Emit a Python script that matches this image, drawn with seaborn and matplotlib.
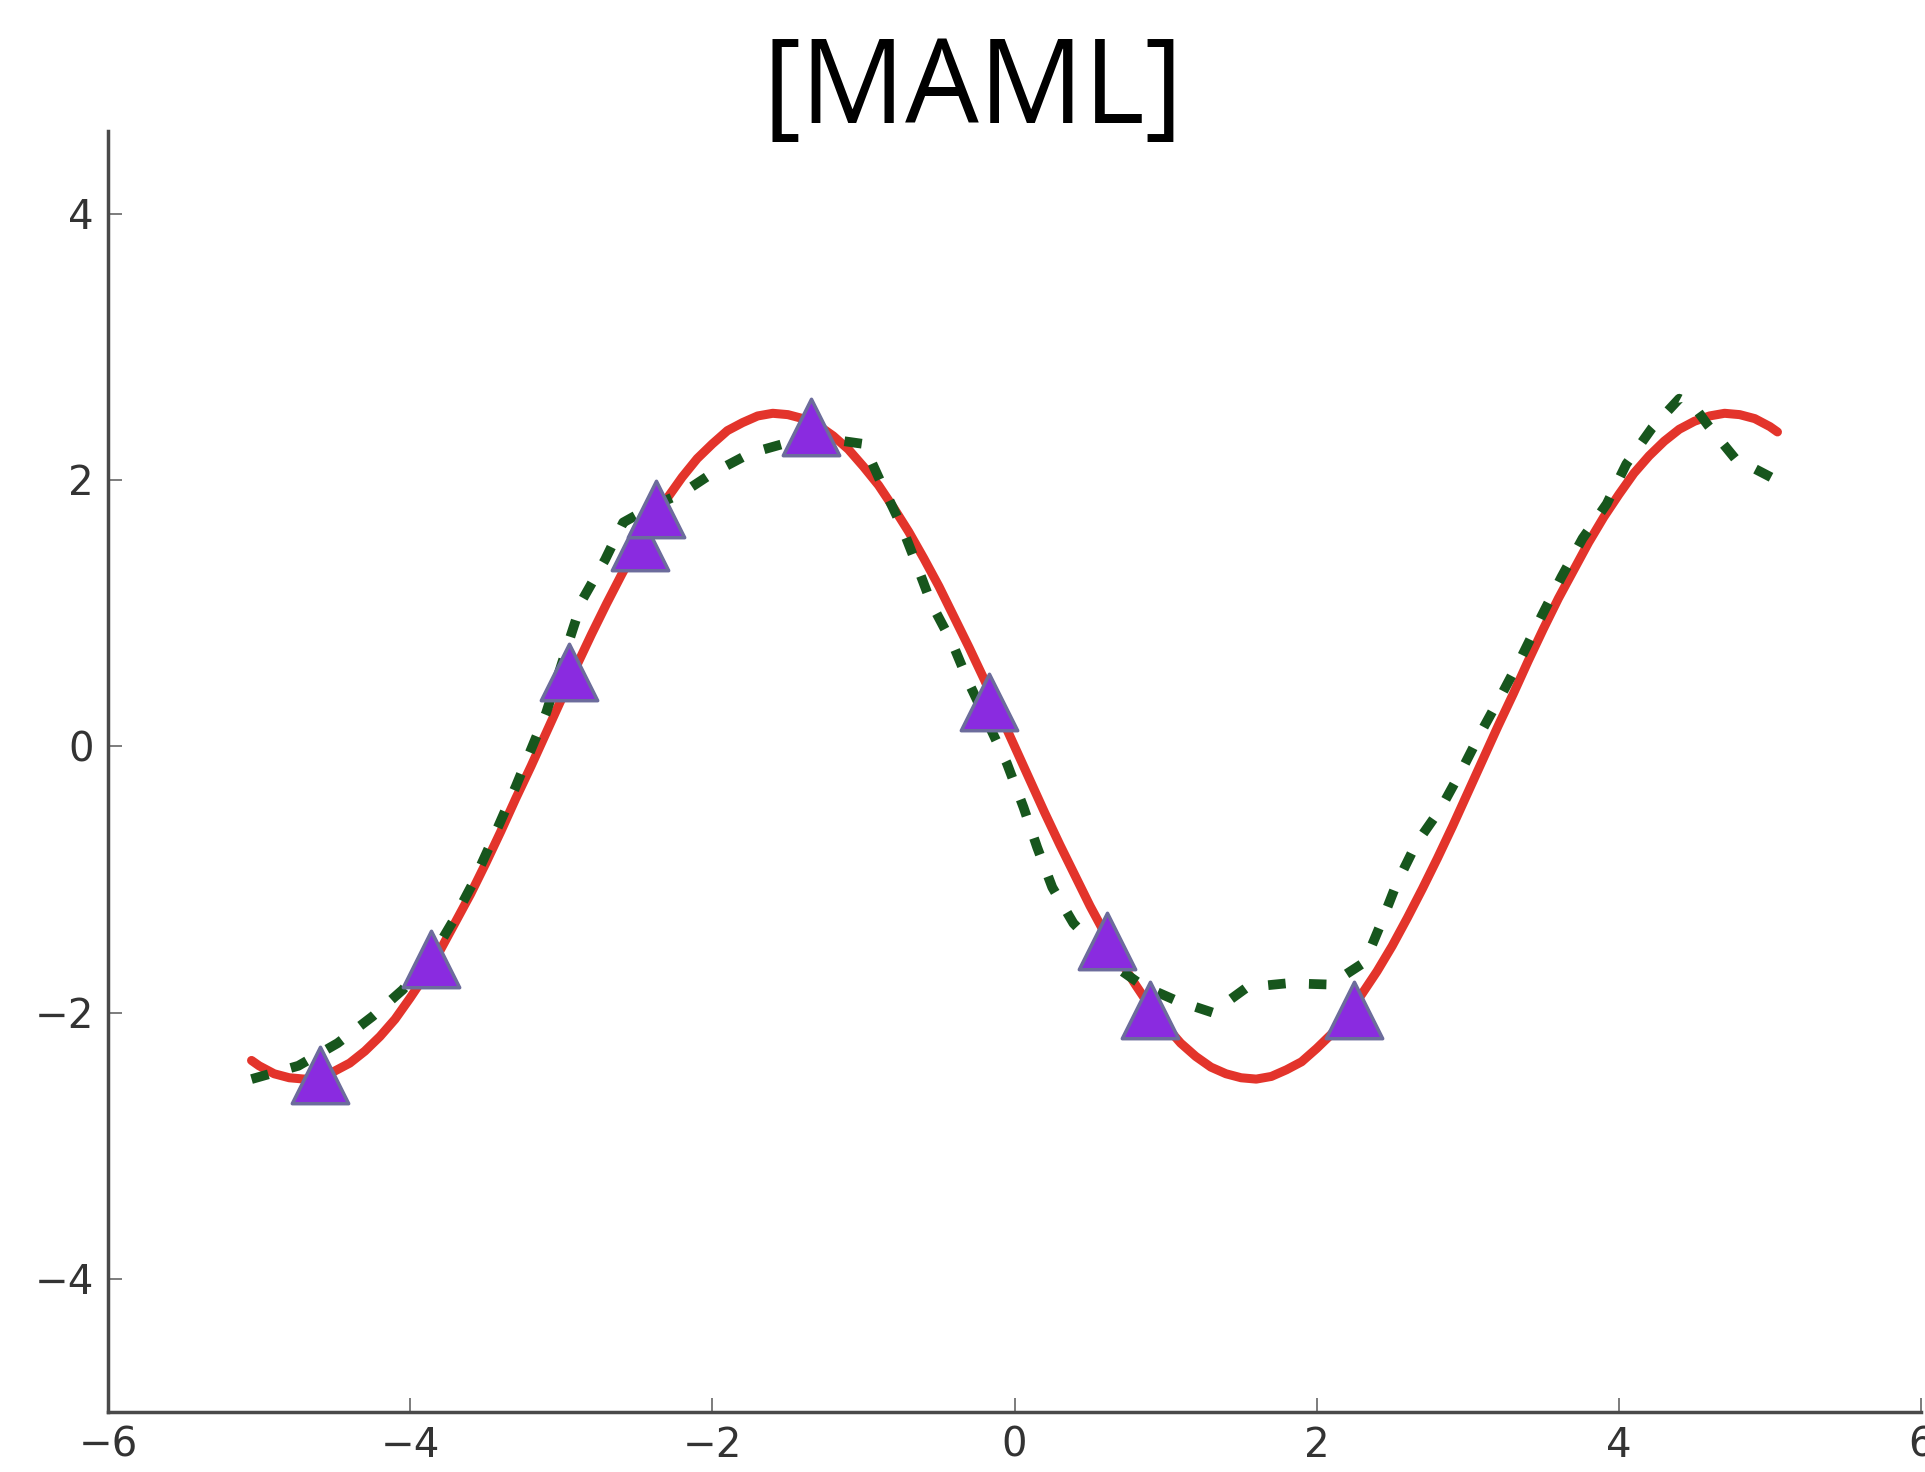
import numpy as np
import pandas as pd
import matplotlib
matplotlib.use("Agg")
import matplotlib.pyplot as plt
import seaborn as sns

# ---- data ----
true_x = [-5.05, -5.0, -4.9, -4.8, -4.7, -4.6, -4.5, -4.4, -4.3, -4.2, -4.1,
          -4.0, -3.9, -3.8, -3.7, -3.6, -3.5, -3.4, -3.3, -3.2, -3.1,
          -3.0, -2.9, -2.8, -2.7, -2.6, -2.5, -2.4, -2.3, -2.2, -2.1,
          -2.0, -1.9, -1.8, -1.7, -1.6, -1.5, -1.4, -1.3, -1.2, -1.1,
          -1.0, -0.9, -0.8, -0.7, -0.6, -0.5, -0.4, -0.3, -0.2, -0.1,
          0.0, 0.1, 0.2, 0.3, 0.4, 0.5, 0.6, 0.7, 0.8, 0.9,
          1.0, 1.1, 1.2, 1.3, 1.4, 1.5, 1.6, 1.7, 1.8, 1.9,
          2.0, 2.1, 2.2, 2.3, 2.4, 2.5, 2.6, 2.7, 2.8, 2.9,
          3.0, 3.1, 3.2, 3.3, 3.4, 3.5, 3.6, 3.7, 3.8, 3.9,
          4.0, 4.1, 4.2, 4.3, 4.4, 4.5, 4.6, 4.7, 4.8, 4.9,
          5.0, 5.05]
true_y = [-2.36, -2.40, -2.46, -2.49, -2.50, -2.48, -2.44, -2.38, -2.29, -2.18, -2.05,
          -1.89, -1.72, -1.53, -1.32, -1.11, -0.88, -0.64, -0.39, -0.15, 0.10,
          0.35, 0.60, 0.84, 1.07, 1.29, 1.50, 1.69, 1.86, 2.02, 2.16,
          2.27, 2.37, 2.43, 2.48, 2.50, 2.49, 2.46, 2.41, 2.33, 2.23,
          2.10, 1.96, 1.79, 1.61, 1.41, 1.20, 0.97, 0.74, 0.50, 0.25,
          0.00, -0.25, -0.50, -0.74, -0.97, -1.20, -1.41, -1.61, -1.79, -1.96,
          -2.10, -2.23, -2.33, -2.41, -2.46, -2.49, -2.50, -2.48, -2.43, -2.37,
          -2.27, -2.16, -2.02, -1.86, -1.69, -1.50, -1.29, -1.07, -0.84, -0.60,
          -0.35, -0.10, 0.15, 0.39, 0.64, 0.88, 1.11, 1.32, 1.53, 1.72,
          1.89, 2.05, 2.18, 2.29, 2.38, 2.44, 2.48, 2.50, 2.49, 2.46,
          2.40, 2.36]

maml_x = [-5.05, -4.74, -4.48, -4.25, -4.05, -3.85, -3.72, -3.59, -3.47, -3.30,
          -3.10, -2.94, -2.86, -2.71, -2.59, -2.40, -2.20, -2.00, -1.75, -1.50,
          -1.25, -1.00, -0.88, -0.75, -0.65, -0.55, -0.41, -0.30, -0.17, -0.05,
          0.06, 0.15, 0.25, 0.39, 0.55, 0.70, 0.85, 1.07, 1.31, 1.54,
          1.81, 2.09, 2.32, 2.43, 2.53, 2.66, 2.82, 2.96, 3.09, 3.23,
          3.36, 3.49, 3.62, 3.76, 3.92, 4.05, 4.22, 4.40, 4.50, 4.59,
          4.77, 4.99, 5.04]
maml_y = [-2.50, -2.40, -2.23, -2.03, -1.83, -1.57, -1.32, -1.04, -0.74, -0.30,
          0.25, 0.82, 1.10, 1.40, 1.68, 1.80, 1.90, 2.05, 2.20, 2.28,
          2.31, 2.27, 1.97, 1.66, 1.37, 1.07, 0.77, 0.47, 0.16, -0.13,
          -0.46, -0.76, -1.06, -1.33, -1.52, -1.68, -1.80, -1.91, -2.00, -1.81,
          -1.78, -1.79, -1.62, -1.32, -1.03, -0.73, -0.47, -0.18, 0.11, 0.40,
          0.68, 0.98, 1.27, 1.56, 1.82, 2.12, 2.39, 2.61, 2.55, 2.41,
          2.16, 2.03, 2.00]

pts_x = [-4.60, -3.86, -2.95, -2.48, -2.37, -1.35, -0.17, 0.61, 0.90, 2.25]
pts_y = [-2.47, -1.60, 0.56, 1.53, 1.78, 2.40, 0.33, -1.46, -1.98, -1.98]

xticks = [-6, -4, -2, 0, 2, 4, 6]
yticks = [-4, -2, 0, 2, 4]
title = "[MAML]"

# ---- plot ----
sns.set_style("ticks")
plt.rcParams["font.family"] = ["DejaVu Sans"]

fig = plt.figure(figsize=(19.25, 14.72), dpi=100)
ax = fig.add_axes([108 / 1925, 1 - 1412 / 1472, (1921 - 108) / 1925, (1412 - 131) / 1472])

df_true = pd.DataFrame({"x": true_x, "y": true_y})
df_maml = pd.DataFrame({"x": maml_x, "y": maml_y})
df_pts = pd.DataFrame({"x": pts_x, "y": pts_y})

sns.lineplot(data=df_true, x="x", y="y", ax=ax, color="#e3342b", linewidth=6.5,
             solid_capstyle="round", solid_joinstyle="round", zorder=2)
sns.lineplot(data=df_maml, x="x", y="y", ax=ax, color="#17561d", linewidth=7,
             zorder=3)
ax.lines[-1].set_dashes((1.8, 2.4))
ax.lines[-1].set_dash_capstyle("butt")
sns.scatterplot(data=df_pts, x="x", y="y", ax=ax, marker="^", s=1650,
                color="#8a2be0", edgecolor="#6c6c9c", linewidth=2.5, zorder=4)

ax.set_xlim(-6, 6)
ax.set_ylim(-5, 4.62)
ax.set_xticks(xticks)
ax.set_yticks(yticks)
ax.set_xlabel("")
ax.set_ylabel("")

for s in ["top", "right"]:
    ax.spines[s].set_visible(False)
for s in ["left", "bottom"]:
    ax.spines[s].set_color("#4a4a4a")
    ax.spines[s].set_linewidth(2.5)

ax.tick_params(axis="both", direction="in", length=10, width=1.2, color="#666666",
               labelsize=29, labelcolor="#333333", pad=10)

fig.text(973 / 1925, 1 - 123 / 1472, title, ha="center", va="baseline",
         fontsize=84, family=["Open Sans", "DejaVu Sans"], color="black")

fig.savefig("out.png", dpi=100)
